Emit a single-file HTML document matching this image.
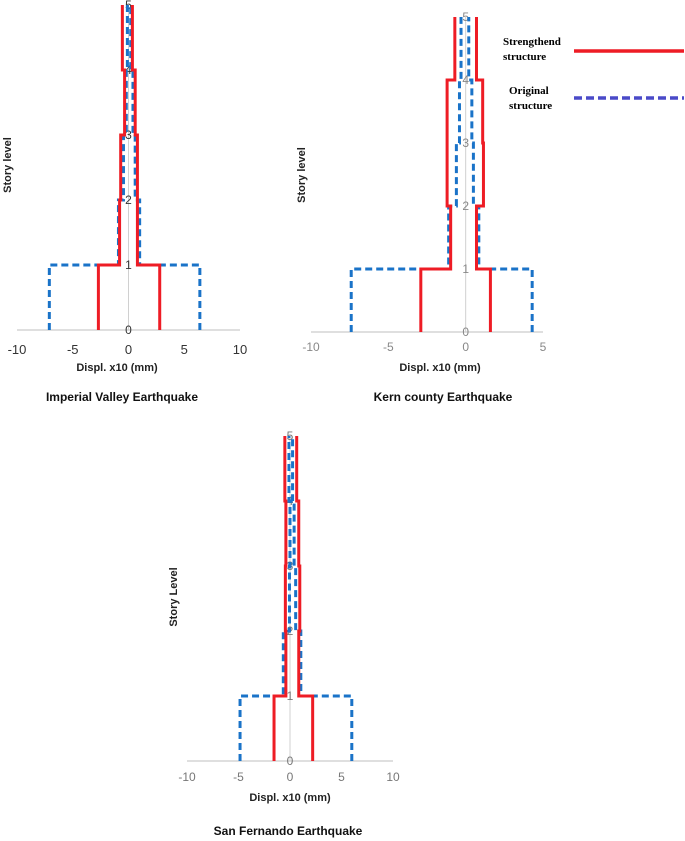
<!DOCTYPE html>
<html><head><meta charset="utf-8"><style>
body{margin:0;background:#fff;}
svg{display:block;font-family:"Liberation Sans",Arial,sans-serif;}
</style></head><body>
<svg id="root" width="685" height="841" viewBox="0 0 685 841">
<g font-family="Liberation Serif, serif" font-weight="bold" font-size="11" fill="#000">
<text x="503" y="45">Strengthend</text>
<text x="503" y="60">structure</text>
<line x1="574" y1="51" x2="684" y2="51" stroke="#ee1c25" stroke-width="3.5"/>
<text x="509" y="94">Original</text>
<text x="509" y="109">structure</text>
<line x1="574" y1="98" x2="684" y2="98" stroke="#4a4ac8" stroke-width="3.5" stroke-dasharray="8,4"/>
</g>
</svg>
<script>
// Chart 1: Imperial Valley
const c1RedLeft=[-2.7,-0.8,-0.7,-0.35,-0.55];
const c1RedRight=[2.8,0.8,0.8,0.6,0.35];
const c1BlueLeft=[-7.1,-0.9,-0.45,-0.2,-0.1];
const c1BlueRight=[6.4,1.0,0.6,0.4,0.2];
const c1Ticks=[-10,-5,0,5,10];
// Chart 2: Kern county
const c2RedLeft=[-2.9,-0.97,-1.2,-1.2,-0.7];
const c2RedRight=[1.6,0.7,1.15,1.1,0.7];
const c2BlueLeft=[-7.4,-1.1,-0.6,-0.4,-0.3];
const c2BlueRight=[4.3,0.85,0.5,0.4,0.2];
const c2Ticks=[-10,-5,0,5];
// Chart 3: San Fernando
const c3RedLeft=[-1.55,-0.4,-0.45,-0.4,-0.5];
const c3RedRight=[2.2,0.85,0.95,0.85,0.65];
const c3BlueLeft=[-4.85,-0.65,-0.05,0,-0.1];
const c3BlueRight=[6.0,1.05,0.55,0.4,0.25];
const c3Ticks=[-10,-5,0,5,10];
const levels=[0,1,2,3,4,5];

const NS='http://www.w3.org/2000/svg';
const root=document.getElementById('root');
function mk(tag,attrs,parent){const e=document.createElementNS(NS,tag);for(const k in attrs)e.setAttribute(k,attrs[k]);(parent||root).appendChild(e);return e;}

function chart(cfg){
  const g=mk('g',{});
  
  
  const sx=v=>cfg.x0+(v-cfg.xmin)*(cfg.x1-cfg.x0)/(cfg.xmax-cfg.xmin);
  const sy=v=>cfg.y0-(v/5)*(cfg.y0-cfg.y5);
  const ax=mk('line',{x1:cfg.x0,y1:sy(0),x2:cfg.x1,y2:sy(0),stroke:'#bfbfbf','stroke-width':1},g);
  
  
  const ay=mk('line',{x1:sx(0),y1:sy(0),x2:sx(0),y2:sy(5),stroke:'#d0d0d0','stroke-width':1},g);
  
  
  cfg.ticks.forEach(t=>{
    const tx=mk('text',{x:sx(t),y:sy(0)+cfg.tickOff,'text-anchor':'middle','font-size':cfg.tickSize,fill:cfg.tickColor},g);
    tx.textContent=t;
    
    
  });
  levels.forEach(l=>{
    const ty=mk('text',{x:sx(0),y:sy(l)+4,'text-anchor':'middle','font-size':12,fill:cfg.tickColor},g);
    ty.textContent=l;
    
    
  });
  function prof(vals,color,dash,nm){
    let pts=[];
    vals.forEach((v,i)=>{pts.push(sx(v)+','+sy(i));pts.push(sx(v)+','+sy(i+1));});
    const a={points:pts.join(' '),fill:'none',stroke:color,'stroke-width':3};
    if(dash)a['stroke-dasharray']='7,4';
    const p=mk('polyline',a,g);
    
    
  }
  prof(cfg.bl,'#1a73c8',true,'original-left-profile');
  prof(cfg.br,'#1a73c8',true,'original-right-profile');
  prof(cfg.rl,'#ee1c25',false,'strengthened-left-profile');
  prof(cfg.rr,'#ee1c25',false,'strengthened-right-profile');
  const xl=mk('text',{x:cfg.xlx,y:cfg.xly,'text-anchor':'middle','font-size':11,'font-weight':'bold',fill:'#222'},g);
  xl.textContent='Displ. x10 (mm)';
  
  
  const yl=mk('text',{x:cfg.ylx,y:cfg.yly,'text-anchor':'middle','font-size':11,'font-weight':'bold',fill:'#222',transform:'rotate(-90 '+cfg.ylx+' '+cfg.yly+')'},g);
  yl.textContent=cfg.ytitle;
  
  
  const ti=mk('text',{x:cfg.tx,y:cfg.ty,'text-anchor':'middle','font-size':12,'font-weight':'bold',fill:'#111'},g);
  ti.textContent=cfg.title;
  
  
}
chart({name:'imperial-valley-chart',x0:17,x1:240,xmin:-10,xmax:10,y0:330,y5:5,ticks:c1Ticks,tickColor:'#333',tickOff:24,tickSize:13,
  rl:c1RedLeft,rr:c1RedRight,bl:c1BlueLeft,br:c1BlueRight,xlx:117,xly:371,ylx:11,yly:165,ytitle:'Story level',tx:122,ty:401,title:'Imperial Valley Earthquake'});
chart({name:'kern-county-chart',x0:311,x1:543,xmin:-10,xmax:5,y0:332,y5:17,ticks:c2Ticks,tickColor:'#888',tickOff:19,tickSize:12,
  rl:c2RedLeft,rr:c2RedRight,bl:c2BlueLeft,br:c2BlueRight,xlx:440,xly:371,ylx:305,yly:175,ytitle:'Story level',tx:443,ty:401,title:'Kern county Earthquake'});
chart({name:'san-fernando-chart',x0:187,x1:393,xmin:-10,xmax:10,y0:761,y5:436,ticks:c3Ticks,tickColor:'#777',tickOff:20,tickSize:12,
  rl:c3RedLeft,rr:c3RedRight,bl:c3BlueLeft,br:c3BlueRight,xlx:290,xly:801,ylx:177,yly:597,ytitle:'Story Level',tx:288,ty:835,title:'San Fernando Earthquake'});
</script>
</body></html>
